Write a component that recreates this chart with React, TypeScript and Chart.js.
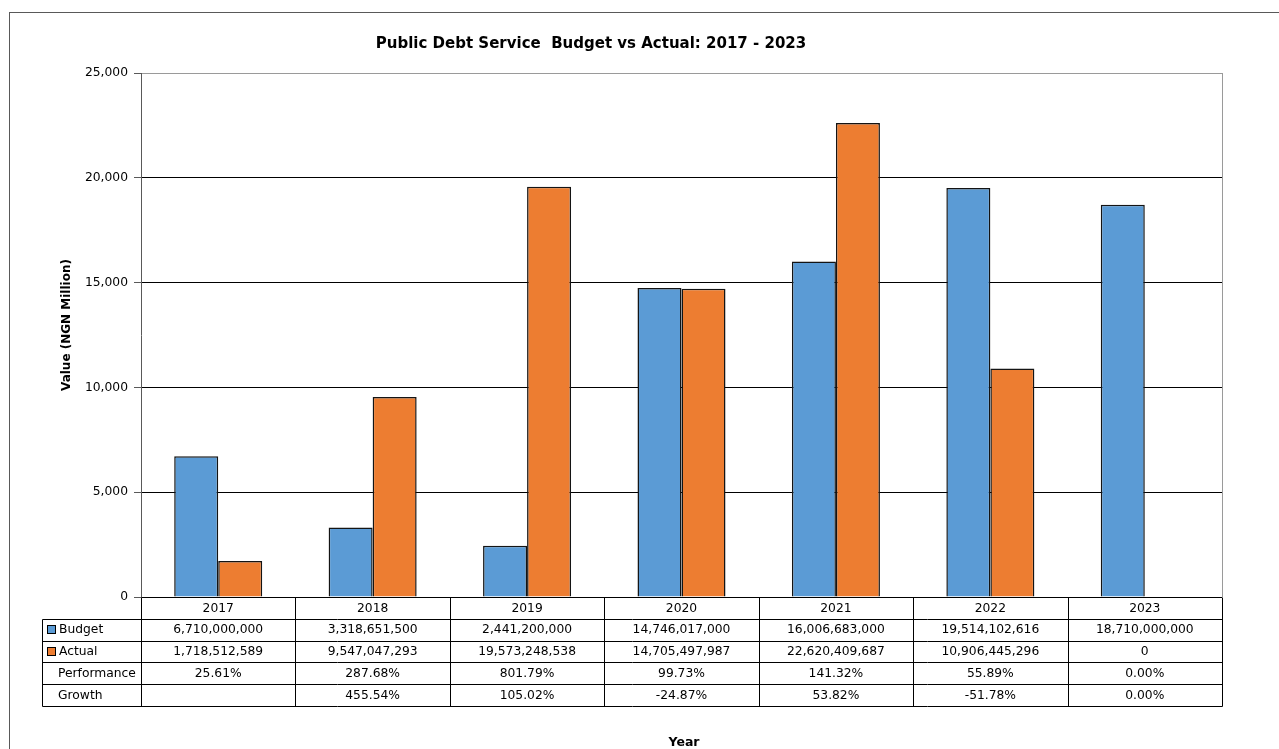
import React, { useEffect, useRef } from "react";
import { Chart, registerables } from "chart.js";

Chart.register(...registerables);

const title = "Public Debt Service  Budget vs Actual: 2017 - 2023";
const yTitle = "Value (NGN Million)";
const xTitle = "Year";
const years = ["2017", "2018", "2019", "2020", "2021", "2022", "2023"];
const budget = [6710000000, 3318651500, 2441200000, 14746017000, 16006683000, 19514102616, 18710000000];
const actual = [1718512589, 9547047293, 19573248538, 14705497987, 22620409687, 10906445296, 0];
const performance = ["25.61%", "287.68%", "801.79%", "99.73%", "141.32%", "55.89%", "0.00%"];
const growth = ["", "455.54%", "105.02%", "-24.87%", "53.82%", "-51.78%", "0.00%"];
const yMin = 0;
const yMax = 25000;
const yStep = 5000;

const FONT = '"DejaVu Sans", Verdana, sans-serif';
const BLUE = "#5B9BD5";
const ORANGE = "#ED7D31";

const fmtInt = (v: number) => Math.round(v).toLocaleString("en-US");

const tablePlugin = {
  id: "dataTable",
  afterDraw(chart: any) {
    const ctx = chart.ctx as CanvasRenderingContext2D;
    const { left, right, top, bottom } = chart.chartArea;
    const n = years.length;
    const cw = (right - left) / n;
    const rowH = 21.8;
    const labelLeft = 42.5;
    ctx.save();

    // outer frame
    ctx.strokeStyle = "#595959";
    ctx.lineWidth = 1;
    ctx.strokeRect(9.5, 12.5, 1400, 900);

    // plot area right border
    ctx.strokeStyle = "#9a9a9a";
    ctx.beginPath();
    ctx.moveTo(Math.round(right) + 0.5, top);
    ctx.lineTo(Math.round(right) + 0.5, bottom);
    ctx.stroke();

    // title
    ctx.fillStyle = "#000";
    ctx.textAlign = "center";
    ctx.textBaseline = "alphabetic";
    ctx.font = `bold 15px ${FONT}`;
    ctx.fillText(title, 591, 48);

    // y title
    ctx.save();
    ctx.translate(67, 325);
    ctx.rotate(-Math.PI / 2);
    ctx.textBaseline = "middle";
    ctx.font = `bold 12px ${FONT}`;
    ctx.fillText(yTitle, 0, 0);
    ctx.restore();

    // x title
    ctx.textBaseline = "alphabetic";
    ctx.font = `bold 12.5px ${FONT}`;
    ctx.fillText(xTitle, 684, 746);

    // table
    const rows = [bottom, bottom + rowH, bottom + 2 * rowH, bottom + 3 * rowH, bottom + 4 * rowH, bottom + 5 * rowH];
    const py = (v: number) => Math.round(v) + 0.5;
    ctx.strokeStyle = "#000";
    ctx.beginPath();
    for (let r = 1; r < rows.length; r++) {
      ctx.moveTo(labelLeft, py(rows[r]));
      ctx.lineTo(py(right), py(rows[r]));
    }
    ctx.moveTo(labelLeft, py(rows[1]));
    ctx.lineTo(labelLeft, py(rows[5]));
    for (let i = 0; i <= n; i++) {
      const x = py(left + i * cw);
      ctx.moveTo(x, py(rows[0]));
      ctx.lineTo(x, py(rows[5]));
    }
    ctx.stroke();

    ctx.font = `12.3px ${FONT}`;
    ctx.fillStyle = "#000";
    ctx.textBaseline = "middle";
    ctx.textAlign = "center";
    const rowVals: string[][] = [
      years,
      budget.map(fmtInt),
      actual.map(fmtInt),
      performance,
      growth,
    ];
    for (let r = 0; r < rowVals.length; r++) {
      const cy = (rows[r] + rows[r + 1]) / 2 + 0.5;
      for (let i = 0; i < n; i++) {
        ctx.fillText(rowVals[r][i], left + (i + 0.5) * cw, cy);
      }
    }
    ctx.textAlign = "left";
    const labels = ["Budget", "Actual", "Performance", "Growth"];
    const keys = [BLUE, ORANGE, null, null];
    for (let r = 0; r < labels.length; r++) {
      const cy = (rows[r + 1] + rows[r + 2]) / 2 + 0.5;
      const k = keys[r];
      if (k) {
        ctx.fillStyle = k;
        ctx.fillRect(47.5, Math.round(cy) - 4.5, 8, 8);
        ctx.strokeStyle = "#000";
        ctx.strokeRect(47.5, Math.round(cy) - 4.5, 8, 8);
      }
      ctx.fillStyle = "#000";
      ctx.fillText(labels[r], r < 2 ? 59 : 58, cy);
    }
    ctx.restore();
  },
};

export default function App() {
  const ref = useRef<HTMLCanvasElement | null>(null);
  useEffect(() => {
    if (!ref.current) return;
    const chart = new Chart(ref.current, {
      type: "bar",
      data: {
        labels: years,
        datasets: [
          {
            label: "Budget",
            data: budget.map((v) => v / 1e6),
            backgroundColor: BLUE,
            borderColor: "#141414",
            borderWidth: 1.5,
          },
          {
            label: "Actual",
            data: actual.map((v) => v / 1e6),
            backgroundColor: ORANGE,
            borderColor: "#141414",
            borderWidth: 1.5,
          },
        ],
      },
      options: {
        responsive: false,
        animation: false,
        layout: { padding: { left: 0, right: 57, top: 73, bottom: 152 } },
        plugins: { legend: { display: false }, title: { display: false }, tooltip: { enabled: false } },
        datasets: { bar: { categoryPercentage: 0.57, barPercentage: 1 } },
        scales: {
          x: { display: false },
          y: {
            min: yMin,
            max: yMax,
            afterFit: (scale: any) => {
              scale.width = 141;
            },
            ticks: {
              stepSize: yStep,
              color: "#000",
              font: { family: FONT, size: 12.3 },
              padding: 6,
              callback: (v: any) => fmtInt(Number(v)),
            },
            grid: {
              color: (c: any) => (c.tick && c.tick.value === yMax ? "#9a9a9a" : "#000"),
              tickColor: "#595959",
              tickLength: 7,
            },
            border: { color: "#595959" },
          },
        },
      },
      plugins: [tablePlugin],
    });
    return () => chart.destroy();
  }, []);
  return (
    <div style={{ position: "fixed", left: 0, top: 0, width: 1279, height: 749, background: "#fff" }}>
      <canvas ref={ref} width={1279} height={749} />
    </div>
  );
}
